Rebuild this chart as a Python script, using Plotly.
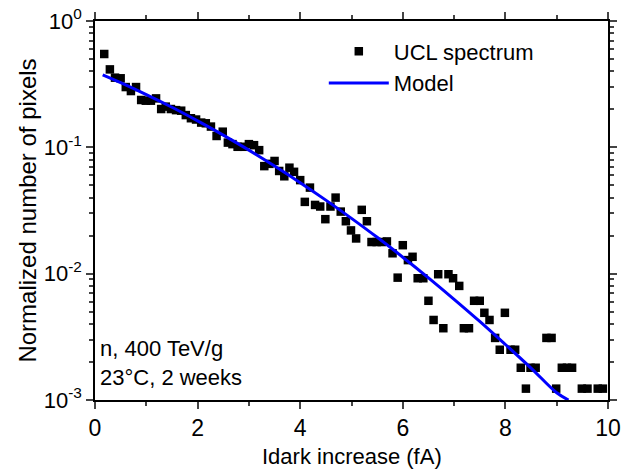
import plotly.graph_objects as go

# UCL spectrum (data points)
ucl_x = [0.18, 0.29, 0.39, 0.50, 0.60, 0.70, 0.80, 0.90, 0.99, 1.09,
         1.19, 1.29, 1.38, 1.48, 1.58, 1.68, 1.77, 1.87, 1.97, 2.07,
         2.16, 2.26, 2.37, 2.49, 2.59, 2.68, 2.78, 2.90, 3.00, 3.10,
         3.20, 3.30, 3.40, 3.50, 3.59, 3.69, 3.79, 3.88, 4.00, 4.09,
         4.19, 4.29, 4.39, 4.49, 4.59, 4.69, 4.79, 4.89, 4.99, 5.09,
         5.20, 5.30, 5.39, 5.49, 5.59, 5.69, 5.80, 5.90, 6.00, 6.10,
         6.19, 6.29, 6.40, 6.50, 6.60, 6.69, 6.79, 6.89, 6.98, 7.10,
         7.19, 7.29, 7.39, 7.50, 7.59, 7.69, 7.80, 7.89, 7.99, 8.10,
         8.19, 8.30, 8.40, 8.49, 8.59, 8.80, 8.90, 8.99, 9.10, 9.20,
         9.30, 9.49, 9.60, 9.80, 9.90]
ucl_y = [0.548, 0.414, 0.356, 0.352, 0.300, 0.279, 0.300, 0.237, 0.234, 0.234,
         0.244, 0.201, 0.210, 0.201, 0.197, 0.195, 0.180, 0.170, 0.166, 0.157,
         0.155, 0.146, 0.123, 0.133, 0.109, 0.106, 0.101, 0.101, 0.106, 0.104,
         0.095, 0.071, 0.074, 0.078, 0.065, 0.059, 0.069, 0.064, 0.055, 0.037,
         0.048, 0.035, 0.034, 0.027, 0.034, 0.040, 0.031, 0.026, 0.022, 0.019,
         0.032, 0.026, 0.0178, 0.0178, 0.0178, 0.018, 0.0145, 0.0093, 0.0168, 0.0128,
         0.0136, 0.0092, 0.0092, 0.0061, 0.0043, 0.0099, 0.0037, 0.0099, 0.0092, 0.0080,
         0.0037, 0.0037, 0.0061, 0.0061, 0.0049, 0.0043, 0.0031, 0.0025, 0.0049, 0.0025,
         0.0025, 0.0018, 0.00123, 0.0018, 0.0018, 0.0031, 0.0031, 0.00123, 0.0018, 0.0018,
         0.0018, 0.00123, 0.00123, 0.00123, 0.00123]

# Model curve
model_x = [0.15, 0.5, 1.0, 1.5, 2.0, 2.5, 3.0, 3.5, 4.0, 4.5,
           5.0, 5.5, 6.0, 6.5, 7.0, 7.5, 8.0, 8.5, 9.0, 9.23]
model_y = [0.375, 0.325, 0.2615, 0.2075, 0.162, 0.125, 0.095, 0.0711, 0.0525, 0.0382,
           0.0274, 0.0194, 0.0135, 0.00927, 0.00627, 0.00419, 0.00275, 0.00179, 0.00114, 0.0010]

x_ticks = [0, 2, 4, 6, 8, 10]
y_ticks = [1e-3, 1e-2, 1e-1, 1]
y_ticktext = ["10<sup>-3</sup>", "10<sup>-2</sup>", "10<sup>-1</sup>", "10<sup>0</sup>"]
y_minor = [m * 10.0 ** e for e in (-3, -2, -1) for m in range(2, 10)]

FONT = "Arial, Liberation Sans, sans-serif"

fig = go.Figure()
fig.add_trace(go.Scatter(
    x=ucl_x, y=ucl_y, mode="markers", name="UCL spectrum",
    marker=dict(symbol="square", size=8.5, color="black", line=dict(width=0)),
))
fig.add_trace(go.Scatter(
    x=model_x, y=model_y, mode="lines", name="Model",
    line=dict(color="#0000FF", width=3, shape="spline"),
))

fig.update_layout(
    width=633, height=470,
    margin=dict(l=95, r=25, t=21, b=70, autoexpand=False),
    paper_bgcolor="white", plot_bgcolor="white",
    font=dict(family=FONT, size=23, color="black"),
    showlegend=True,
    legend=dict(x=0.446, y=0.975, xanchor="left", yanchor="top",
                bgcolor="rgba(0,0,0,0)", font=dict(size=22),
                tracegroupgap=0, itemwidth=60),
    annotations=[
        dict(text="n, 400 TeV/g<br>23°C, 2 weeks", xref="paper", yref="paper",
             x=0.005, y=0.02, xanchor="left", yanchor="bottom", showarrow=False,
             align="left", font=dict(size=22)),
        dict(text="Idark increase (fA)", xref="paper", yref="paper",
             x=0.5, y=-0.150, xanchor="center", yanchor="middle", showarrow=False,
             font=dict(size=22)),
    ],
)

fig.update_xaxes(
    range=[0, 10], tickvals=x_ticks, ticks="outside", ticklen=7, tickwidth=1.5,
    showline=True, linewidth=1.5, linecolor="black", mirror="ticks",
    showgrid=False, zeroline=False, automargin=False,
    minor=dict(dtick=1, ticks="outside", ticklen=4, tickwidth=1.5, showgrid=False),
    tickfont=dict(size=23),
)
fig.update_yaxes(
    type="log", range=[-3, 0], tickvals=y_ticks, ticktext=y_ticktext,
    ticks="outside", ticklen=7, tickwidth=1.5,
    showline=True, linewidth=1.5, linecolor="black", mirror="ticks",
    showgrid=False, zeroline=False, automargin=False,
    minor=dict(tickvals=y_minor, ticks="outside", ticklen=4, tickwidth=1.5, showgrid=False),
    title=dict(text="Normalized number of pixels", font=dict(size=24), standoff=0),
    tickfont=dict(size=22),
)

fig.write_html("out.html", config={"displayModeBar": False},
               post_script="document.body.style.margin='0';")
